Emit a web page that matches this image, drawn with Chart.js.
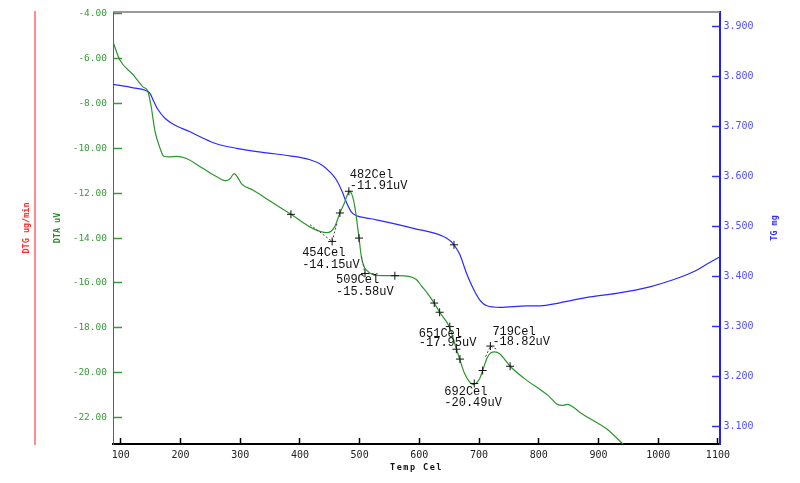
<!DOCTYPE html>
<html>
<head>
<meta charset="utf-8">
<script src="https://cdn.jsdelivr.net/npm/chart.js@4.4.0/dist/chart.umd.min.js"></script>
<style>
html, body { margin: 0; padding: 0; background: #fff; }
</style>
</head>
<body>
<canvas id="chart" width="800" height="483"></canvas>
<script>
//DTA curve (uV) against temperature (Cel)
var dtaTemp = [87, 98, 121, 137, 145, 151, 157, 165, 172, 182, 193, 210, 238, 260, 276, 283, 290, 296, 302, 322, 350, 385, 422, 445, 458, 467, 475, 479, 483, 487, 492, 499, 503, 508, 512, 520, 528, 559, 584, 595, 604, 612, 625, 634, 650, 662, 668, 676, 684, 690, 696, 701, 706, 714, 720, 726, 735, 752, 780, 805, 816, 830, 840, 848, 858, 869, 897, 914, 941, 955];
var dtaValue = [-5.24, -6.03, -6.72, -7.25, -7.43, -8.14, -9.19, -9.93, -10.35, -10.38, -10.35, -10.45, -10.90, -11.25, -11.44, -11.35, -11.12, -11.30, -11.57, -11.87, -12.35, -12.94, -13.58, -13.76, -13.51, -12.88, -12.40, -12.10, -11.92, -12.05, -12.61, -14.00, -14.85, -15.30, -15.44, -15.60, -15.67, -15.68, -15.72, -15.85, -16.15, -16.41, -16.90, -17.31, -17.95, -18.94, -19.44, -20.06, -20.42, -20.54, -20.45, -20.28, -19.91, -19.32, -19.12, -19.08, -19.17, -19.72, -20.35, -20.81, -21.03, -21.40, -21.47, -21.42, -21.55, -21.78, -22.23, -22.52, -23.19, -23.55];

//TG curve (mg)
var tgTemp = [87, 121, 143, 149, 154, 162, 174, 188, 216, 238, 260, 294, 344, 383, 417, 436, 450, 461, 472, 475, 486, 495, 510, 528, 590, 646, 658, 668, 679, 690, 701, 713, 735, 780, 802, 835, 886, 930, 986, 1025, 1059, 1084, 1102, 1105];
var tgValue = [3.784, 3.777, 3.771, 3.766, 3.753, 3.734, 3.716, 3.704, 3.689, 3.676, 3.665, 3.656, 3.647, 3.641, 3.633, 3.623, 3.609, 3.593, 3.566, 3.556, 3.529, 3.521, 3.517, 3.513, 3.496, 3.476, 3.463, 3.443, 3.406, 3.376, 3.353, 3.341, 3.338, 3.341, 3.341, 3.347, 3.359, 3.366, 3.379, 3.393, 3.409, 3.426, 3.438, 3.440];

//analysis markers
var markTemp = [385, 454, 467, 482, 499, 509, 559, 625, 634, 651, 662, 668, 692, 706, 719, 752];
var markValue = [-12.94, -14.15, -12.88, -11.91, -14.00, -15.58, -15.68, -16.90, -17.31, -17.95, -18.96, -19.40, -20.49, -19.91, -18.82, -19.72];
var tgMarkTemp = [658];
var tgMarkValue = [3.463];

//peak labels
var peakTemp = [454, 482, 509, 651, 692, 719];
var peakValue = [-14.15, -11.91, -15.58, -17.95, -20.49, -18.82];

//tangent construction lines
var tangent1Temp = [417, 454, 462];
var tangent1Value = [-13.40, -14.15, -13.35];
var tangent2Temp = [503, 509, 534];
var tangent2Value = [-14.83, -15.58, -15.60];
var tangent3Temp = [711, 719, 729];
var tangent3Value = [-19.29, -18.82, -18.95];

var xTicks = [100, 200, 300, 400, 500, 600, 700, 800, 900, 1000, 1100];

function pts(t, v) {
  return t.map(function(x, i) { return {x: x, y: v[i]}; });
}

var monoFont = '"DejaVu Sans Mono", monospace';
//label offsets (px) from each peak marker: dx, dy line 1, dy line 2
var labelOffset = [[-30, 11, 23], [1, -16, -5], [-29, 6, 18], [-31, 7, 16], [-30, 8, 19], [2, -14, -4]];

function vText(c, txt, x, y, color) {
  c.save();
  c.translate(x, y);
  c.rotate(-Math.PI / 2);
  c.fillStyle = color;
  c.textAlign = 'center';
  c.textBaseline = 'middle';
  c.fillText(txt, 0, 0);
  c.restore();
}

//no extra label overhang padding, keep plot box fixed
function noPad(s) {
  s.paddingTop = 0;
  s.paddingBottom = 0;
  s.paddingLeft = 0;
  s.paddingRight = 0;
}

var extras = {
  id: 'extras',
  afterDraw: function(chart) {
    var c = chart.ctx, a = chart.chartArea, xs = chart.scales.x, ys = chart.scales.y;
    c.save();
    //top frame line
    c.strokeStyle = '#7a7a7a';
    c.lineWidth = 1.5;
    c.beginPath();
    c.moveTo(a.left, a.top);
    c.lineTo(a.right, a.top);
    c.stroke();

    //peak labels
    c.font = '12px "Liberation Mono", monospace';
    c.fillStyle = '#111';
    c.textAlign = 'left';
    c.textBaseline = 'middle';
    peakTemp.forEach(function(t, i) {
      var px = xs.getPixelForValue(t), py = ys.getPixelForValue(peakValue[i]);
      var o = labelOffset[i];
      c.fillText(t + 'Cel', px + o[0], py + o[1]);
      c.fillText(peakValue[i].toFixed(2) + 'uV', px + o[0], py + o[2]);
    });

    //axis titles
    var midY = (a.top + a.bottom) / 2;
    c.font = 'bold 8.5px ' + monoFont;
    vText(c, 'DTG ug/min', 27, midY, '#ff2a2a');
    vText(c, 'DTA uV', 58, midY, '#2a8a2a');
    vText(c, 'TG mg', 775, midY, '#3030ff');
    c.fillStyle = '#111';
    c.textAlign = 'center';
    c.letterSpacing = '1.5px';
    c.fillText('Temp Cel', (a.left + a.right) / 2, a.bottom + 24);
    c.restore();
  }
};

var ctx = document.getElementById('chart').getContext('2d');
var chart = new Chart(ctx, {
  type: 'line',
  data: {
    datasets: [{
      label: 'DTA',
      data: pts(dtaTemp, dtaValue),
      yAxisID: 'y',
      borderColor: '#2a962a',
      borderWidth: 1.2,
      pointRadius: 0,
      cubicInterpolationMode: 'monotone',
      order: 3
    },
    {
      label: 'TG',
      data: pts(tgTemp, tgValue),
      yAxisID: 'yTG',
      borderColor: '#2a2aff',
      borderWidth: 1.2,
      pointRadius: 0,
      cubicInterpolationMode: 'monotone',
      order: 4
    },
    {
      data: pts(tangent1Temp, tangent1Value),
      yAxisID: 'y',
      borderColor: '#444',
      borderWidth: 1,
      borderDash: [2, 2],
      pointRadius: 0,
      order: 2
    },
    {
      data: pts(tangent2Temp, tangent2Value),
      yAxisID: 'y',
      borderColor: '#444',
      borderWidth: 1,
      borderDash: [2, 2],
      pointRadius: 0,
      order: 2
    },
    {
      data: pts(tangent3Temp, tangent3Value),
      yAxisID: 'y',
      borderColor: '#444',
      borderWidth: 1,
      borderDash: [2, 2],
      pointRadius: 0,
      order: 2
    },
    {
      data: pts(markTemp, markValue),
      yAxisID: 'y',
      showLine: false,
      pointStyle: 'cross',
      pointRadius: 4,
      borderColor: '#111',
      borderWidth: 1,
      order: 1
    },
    {
      data: pts(tgMarkTemp, tgMarkValue),
      yAxisID: 'yTG',
      showLine: false,
      pointStyle: 'cross',
      pointRadius: 4,
      borderColor: '#111',
      borderWidth: 1,
      order: 1
    }]
  },
  options: {
    responsive: false,
    animation: false,
    devicePixelRatio: 1,
    layout: { padding: { top: 12, left: 0, right: 0, bottom: 0 } },
    plugins: {
      legend: { display: false },
      tooltip: { enabled: false }
    },
    scales: {
      x: {
        type: 'linear',
        position: 'bottom',
        min: 87,
        max: 1103.5,
        afterBuildTicks: function(s) { s.ticks = xTicks.map(function(v) { return {value: v}; }); },
        afterFit: function(s) { s.height = 39; noPad(s); },
        border: { color: '#000', width: 2 },
        grid: { drawOnChartArea: false, tickLength: -6, color: '#000', tickColor: '#000', tickWidth: 1.5 },
        ticks: {
          color: '#222',
          padding: 11,
          maxRotation: 0,
          autoSkip: false,
          font: { family: monoFont, size: 10 },
          callback: function(v) { return String(v); }
        }
      },
      yDTG: {
        type: 'linear',
        position: 'left',
        weight: 10,
        min: 0,
        max: 1,
        afterFit: function(s) { s.width = 35; noPad(s); },
        border: { color: '#ff8c8c', width: 2 },
        grid: { drawOnChartArea: false, drawTicks: false },
        ticks: { display: false }
      },
      y: {
        type: 'linear',
        position: 'left',
        weight: 0,
        min: -23.19,
        max: -3.911,
        afterFit: function(s) { s.width = 78; noPad(s); },
        border: { color: '#1f8a1f', width: 1 },
        grid: { drawOnChartArea: false, tickLength: -9, color: '#3a9a3a', tickColor: '#3a9a3a', tickWidth: 1.5 },
        ticks: {
          stepSize: 2,
          includeBounds: false,
          autoSkip: false,
          padding: 15,
          color: '#3a9a3a',
          font: { family: monoFont, size: 9.5 },
          callback: function(v) { return v.toFixed(2); }
        }
      },
      yTG: {
        type: 'linear',
        position: 'right',
        min: 3.0646,
        max: 3.9286,
        afterFit: function(s) { s.width = 80; noPad(s); },
        border: { color: '#2020e8', width: 2 },
        grid: { drawOnChartArea: false, tickLength: -8, color: '#3030ff', tickColor: '#3030ff', tickWidth: 1.5 },
        ticks: {
          stepSize: 0.1,
          includeBounds: false,
          autoSkip: false,
          padding: 11.5,
          color: '#5050ff',
          font: { family: monoFont, size: 10 },
          callback: function(v) { return v.toFixed(3); }
        }
      }
    }
  },
  plugins: [extras]
});
</script>
</body>
</html>
